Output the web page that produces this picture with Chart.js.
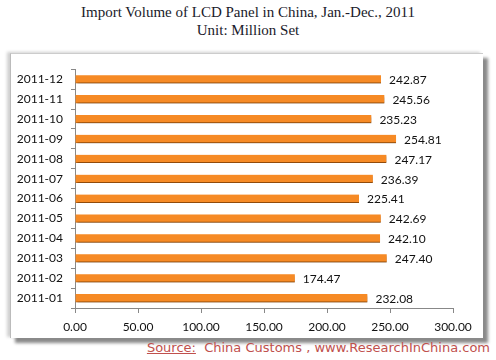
<!DOCTYPE html>
<html>
<head>
<meta charset="utf-8">
<script src="https://cdn.jsdelivr.net/npm/chart.js@4.4.1/dist/chart.umd.min.js"></script>
<style>
  body { margin: 0; background: #fff; width: 496px; height: 360px; position: relative; overflow: hidden; }
  .title { position: absolute; left: 0; width: 496px; text-align: center; font-family: "Liberation Serif", serif; font-size: 15px; color: #1a1a2a; }
  .frame { position: absolute; left: 10px; top: 53px; width: 472px; height: 284px; background: #fff;
           border-top: 1px solid #ccc; border-left: 1px solid #bbb;
           box-shadow: 5px 5px 3px #8a8a8a, -3px -1px 3px #d0d0d0; }
  .source { position: absolute; right: 6px; top: 340px; font-family: "DejaVu Sans", sans-serif; font-size: 13px; color: #c0504d; }
  .source u { text-decoration: underline; }
</style>
</head>
<body>
<div class="title" style="top:4px">Import Volume of LCD Panel in China, Jan.-Dec., 2011</div>
<div class="title" style="top:22px">Unit: Million Set</div>
<div class="frame"><canvas id="barChart" width="472" height="284"></canvas></div>
<div class="source"><u>Source:</u>&nbsp; China Customs , www.ResearchInChina.com</div>
<script>
// === IMPORT VOLUME BY MONTH ===
const months = ["2011-12", "2011-11", "2011-10", "2011-09", "2011-08", "2011-07",
                "2011-06", "2011-05", "2011-04", "2011-03", "2011-02", "2011-01"];
const volumes = [242.87, 245.56, 235.23, 254.81, 247.17, 236.39,
                 225.41, 242.69, 242.10, 247.40, 174.47, 232.08];
const xTicks = [0, 50, 100, 150, 200, 250, 300];

// bar shadow + value labels
const barExtras = {
    id: "barExtras",
    beforeDatasetDraw(chart) {
        const ctx = chart.ctx;
        ctx.save();
        ctx.shadowColor = "rgba(0,0,0,0.35)";
        ctx.shadowOffsetX = 2;
        ctx.shadowOffsetY = 2;
        ctx.shadowBlur = 2;
    },
    afterDatasetDraw(chart) {
        chart.ctx.restore();
        const ctx = chart.ctx;
        const meta = chart.getDatasetMeta(0);
        ctx.save();
        ctx.font = "12px Lato";
        ctx.fillStyle = "#111";
        ctx.textBaseline = "middle";
        meta.data.forEach((bar, i) => {
            ctx.fillText(volumes[i].toFixed(2), bar.x + 8, bar.y + 1);
        });
        ctx.restore();
    }
};

const barChart = new Chart(document.getElementById("barChart"), {
    type: "bar",
    data: {
        labels: months,
        datasets: [{
            data: volumes,
            backgroundColor: "#F68A25",
            borderColor: "#D9700F",
            borderWidth: { bottom: 1 },
            borderSkipped: false,
            barThickness: 8
        }]
    },
    options: {
        indexAxis: "y",
        responsive: false,
        animation: false,
        plugins: { legend: { display: false }, tooltip: { enabled: false } },
        layout: { padding: { top: 13, right: 30, bottom: 0, left: 0 } },
        scales: {
            x: {
                min: 0,
                max: 300,
                afterBuildTicks: (scale) => { scale.ticks = xTicks.map(v => ({ value: v })); },
                afterFit: (scale) => { scale.height = 30; },
                grid: { drawOnChartArea: false, color: "#888", tickLength: 5 },
                border: { color: "#888" },
                ticks: {
                    padding: 7,
                    color: "#111",
                    font: { family: "Lato", size: 12 },
                    maxRotation: 0,
                    callback: (v) => v.toFixed(2)
                }
            },
            y: {
                afterFit: (scale) => { scale.width = 64; },
                grid: { drawOnChartArea: false, color: "#888", tickLength: 4, offset: true },
                border: { color: "#888" },
                ticks: {
                    padding: 8,
                    color: "#111",
                    font: { family: "Lato", size: 12 }
                }
            }
        }
    },
    plugins: [barExtras]
});
</script>
</body>
</html>
